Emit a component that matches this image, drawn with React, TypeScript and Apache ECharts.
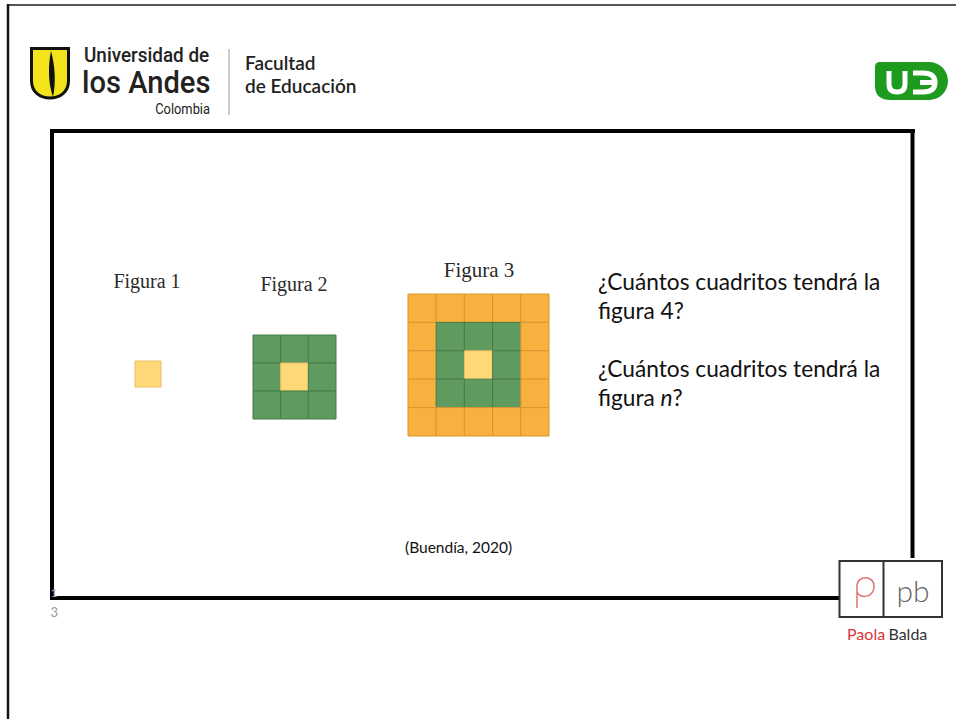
import React, { useEffect, useRef } from "react";
import * as echarts from "echarts";

// ---- data ----
const figureLabels = ["Figura 1", "Figura 2", "Figura 3"];
const fig1Rows = ["Y"];
const fig2Rows = ["GGG", "GYG", "GGG"];
const fig3Rows = ["OOOOO", "OGGGO", "OGYGO", "OGGGO", "OOOOO"];
const questionLines = [
  "¿Cuántos cuadritos tendrá la",
  "figura 4?",
  "¿Cuántos cuadritos tendrá la",
  "figura n?",
];
const citation = "(Buendía, 2020)";
const pageNumber = ["1", "3"];

// ---- styles ----
const kindFill: Record<string, string> = { Y: "#FFD878", G: "#5F9A5F", O: "#F8B13E" };
const kindStroke: Record<string, string> = { Y: "#EDBE66", G: "#497C4A", O: "#D9952F" };

const shieldD = "M1.5,1.5 L38.5,1.5 L38.5,34 C38.5,45 30,51 20,51 C10,51 1.5,45 1.5,34 Z";
const spireD = "M21,4 C18,18 18,36 23,50 C26,36 25,18 21,4 Z";
const udD = "M5,0 L54,0 A19,19 0 0 1 54,38 L16,38 Q0,38 0,24 L0,5 Q0,0 5,0 Z";
const udUD = "M14,9 L14,22 Q14,30 22,30 Q30,30 30,22 L30,9";
const udED = "M38,11 L48,11 Q60,11 60,20.5 Q60,30 48,30 L38,30 M45,20.5 L58,20.5";
const pLetterD = "M0,9 L0,32 M0,10 C0,-1 17,-1 17,10 C17,22 3,23 0,16";

let registered = false;
function registerShapes() {
  if (registered) return;
  registered = true;
  echarts.graphic.registerShape("shield", echarts.graphic.extendPath(shieldD, {}));
  echarts.graphic.registerShape("spire", echarts.graphic.extendPath(spireD, {}));
  echarts.graphic.registerShape("udbody", echarts.graphic.extendPath(udD, {}));
  echarts.graphic.registerShape("udu", echarts.graphic.extendPath(udUD, {}));
  echarts.graphic.registerShape("ude", echarts.graphic.extendPath(udED, {}));
  echarts.graphic.registerShape("pletter", echarts.graphic.extendPath(pLetterD, {}));
}

function rowsToCells(rows: string[]) {
  const out: [number, number, string][] = [];
  rows.forEach((r, ri) => r.split("").forEach((k, ci) => out.push([ci, ri, k])));
  return out;
}

const figures = [fig1Rows, fig2Rows, fig3Rows];
const gridBoxes = [
  { left: 135, top: 361, width: 26, height: 26 },
  { left: 253, top: 335, width: 83, height: 84 },
  { left: 408, top: 294, width: 141, height: 142 },
];

export default function App() {
  const ref = useRef<HTMLDivElement>(null);
  useEffect(() => {
    if (!ref.current) return;
    registerShapes();
    const chart = echarts.init(ref.current, undefined, { renderer: "svg" });

    const grids = gridBoxes.map((g) => ({ ...g, containLabel: false, show: false }));
    const xAxes = figures.map((f, i) => ({
      type: "value", gridIndex: i, min: 0, max: f[0].length, show: false,
    }));
    const yAxes = figures.map((f, i) => ({
      type: "value", gridIndex: i, min: 0, max: f.length, inverse: true, show: false,
    }));
    const series = figures.map((f, i) => ({
      type: "custom",
      xAxisIndex: i,
      yAxisIndex: i,
      data: rowsToCells(f),
      renderItem: (params: any, api: any) => {
        const c = api.coord([api.value(0), api.value(1)]);
        const s = api.size([1, 1]);
        const k = f[api.value(1)][api.value(0)];
        return {
          type: "rect",
          shape: { x: c[0], y: c[1], width: s[0], height: s[1] },
          style: { fill: kindFill[k], stroke: kindStroke[k], lineWidth: 1 },
        };
      },
    }));

    const sans = "Lato, 'Open Sans', sans-serif";
    const logoFont = "Roboto, 'Noto Sans', sans-serif";
    const text = (t: string, x: number, y: number, st: any, z = 10, extra: any = {}) => ({
      type: "text", x, y, z, ...extra,
      style: { text: t, textVerticalAlign: "middle", fill: "#111", ...st },
    });

    const graphic: any[] = [
      // outer frame
      { type: "line", z: 5, shape: { x1: 7, y1: 5, x2: 956, y2: 5 }, style: { stroke: "#555", lineWidth: 2 } },
      { type: "line", z: 5, shape: { x1: 8, y1: 4, x2: 8, y2: 719 }, style: { stroke: "#111", lineWidth: 2.5 } },
      // inner frame
      { type: "line", z: 5, shape: { x1: 50, y1: 131, x2: 915, y2: 131 }, style: { stroke: "#000", lineWidth: 4 } },
      { type: "line", z: 5, shape: { x1: 52, y1: 129, x2: 52, y2: 600 }, style: { stroke: "#000", lineWidth: 4 } },
      { type: "line", z: 5, shape: { x1: 912.5, y1: 129, x2: 912.5, y2: 558 }, style: { stroke: "#000", lineWidth: 4 } },
      { type: "line", z: 5, shape: { x1: 50, y1: 598, x2: 839, y2: 598 }, style: { stroke: "#000", lineWidth: 4 } },
      // page numbers
      text(pageNumber[0], 50.5, 592, { fontSize: 12, fill: "#aaa", fontFamily: sans }, 6),
      text(pageNumber[1], 50.5, 612, { fontSize: 13, fill: "#999", fontFamily: sans }, 6),
      // Uniandes logo
      { type: "shield", x: 30, y: 47, z: 10, style: { fill: "#F2E31B", stroke: "#111", lineWidth: 3 } },
      { type: "spire", x: 30, y: 47, z: 11, style: { fill: "#111" } },
      text("Universidad de", 84, 55, { fontSize: 21, fontFamily: logoFont, fontWeight: 500, fill: "#222" }, 10, { scaleX: 0.9 }),
      text("los Andes", 82, 82, { fontSize: 32, fontFamily: logoFont, fontWeight: 500, fill: "#222" }, 10, { scaleX: 0.91 }),
      text("Colombia", 210, 109, { fontSize: 14, fontFamily: logoFont, fill: "#222", align: "right" }, 10, { scaleX: 0.92 }),
      { type: "line", z: 5, shape: { x1: 229, y1: 49, x2: 229, y2: 115 }, style: { stroke: "#999", lineWidth: 1 } },
      text("Facultad", 245, 62, { fontSize: 19, fontFamily: sans, fontWeight: 600, fill: "#222" }),
      text("de Educación", 245, 85, { fontSize: 19, fontFamily: sans, fontWeight: 600, fill: "#222" }),
      // UD logo
      { type: "udbody", x: 875, y: 62, z: 10, style: { fill: "#1E9B1E" } },
      { type: "udu", x: 875, y: 62, z: 11, style: { fill: "none", stroke: "#fff", lineWidth: 5 } },
      { type: "ude", x: 875, y: 62, z: 11, style: { fill: "none", stroke: "#fff", lineWidth: 5 } },
      // figure labels
      text(figureLabels[0], 147, 281, { fontSize: 20, fontFamily: "'Liberation Serif', serif", fill: "#2a2a2a", align: "center" }),
      text(figureLabels[1], 294, 284, { fontSize: 20, fontFamily: "'Liberation Serif', serif", fill: "#2a2a2a", align: "center" }),
      text(figureLabels[2], 479, 270, { fontSize: 21, fontFamily: "'Liberation Serif', serif", fill: "#2a2a2a", align: "center" }),
      // questions
      text(questionLines[0], 598, 281, { fontSize: 22.7, fontFamily: sans }),
      text(questionLines[1], 598, 310, { fontSize: 22.7, fontFamily: sans }),
      text(questionLines[2], 598, 368, { fontSize: 22.7, fontFamily: sans }),
      {
        type: "text", x: 598, y: 397, z: 10,
        style: {
          text: "figura {i|n}?", textVerticalAlign: "middle", fill: "#111",
          fontSize: 22.7, fontFamily: sans,
          rich: { i: { fontStyle: "italic", fontSize: 22.7, fontFamily: sans, fill: "#111" } },
        },
      },
      text(citation, 405, 547, { fontSize: 15.5, fontFamily: sans }),
      // pb logo
      { type: "rect", z: 10, shape: { x: 839.5, y: 561, width: 102.5, height: 56 }, style: { fill: "#fff", stroke: "#333", lineWidth: 2 } },
      { type: "line", z: 11, shape: { x1: 883.5, y1: 561, x2: 883.5, y2: 617 }, style: { stroke: "#333", lineWidth: 2 } },
      { type: "pletter", x: 857, y: 576, z: 11, style: { fill: "none", stroke: "#E07474", lineWidth: 1.5 } },
      text("pb", 913, 590, { fontSize: 30, fontFamily: sans, fontWeight: 300, fill: "#666", align: "center" }, 11),
      {
        type: "text", x: 847, y: 633, z: 10,
        style: {
          text: "{r|Paola} {b|Balda}", textVerticalAlign: "middle",
          rich: {
            r: { fill: "#D8363A", fontSize: 16, fontFamily: sans },
            b: { fill: "#333", fontSize: 16, fontFamily: sans },
          },
        },
      },
    ];

    chart.setOption({
      animation: false,
      backgroundColor: "#ffffff",
      grid: grids,
      xAxis: xAxes,
      yAxis: yAxes,
      series,
      graphic,
    });
    return () => chart.dispose();
  }, []);
  return (
    <div
      ref={ref}
      style={{ position: "absolute", left: 0, top: 0, width: 956, height: 719 }}
    />
  );
}
